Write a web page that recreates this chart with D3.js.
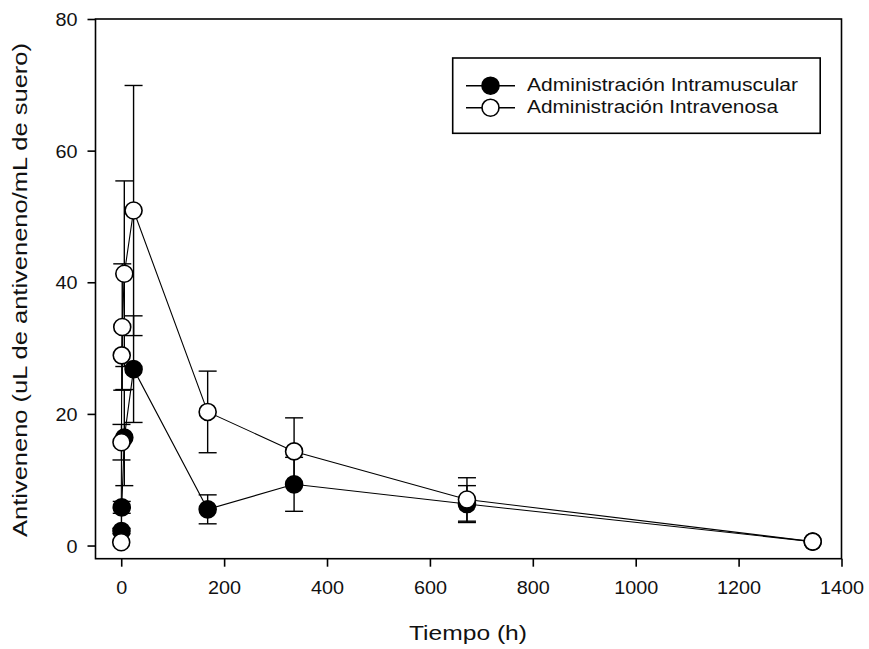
<!DOCTYPE html>
<html>
<head>
<meta charset="utf-8">
<script src="https://cdn.jsdelivr.net/npm/d3@7"></script>
<style>
  body { margin: 0; background: #fff; }
  svg { display: block; font-family: "Liberation Sans", Arial, sans-serif; }
</style>
</head>
<body>
<div id="graf"></div>
<script>
// datos: tiempo (h), media y desviacion de cada serie
const imTime = [0.5, 1, 6, 24, 168, 336, 672, 1344]
const imMean = [2.2, 5.8, 16.4, 26.8, 5.5, 9.3, 6.3, 0.6]
const imSd   = [0.4, 0.9, 7.3, 8.1, 2.2, 4.1, 2.8, 0]

const ivTime = [0, 0.5, 1, 2, 6, 24, 168, 336, 672, 1344]
const ivMean = [0.5, 15.7, 28.9, 33.2, 41.3, 50.9, 20.3, 14.3, 7.0, 0.6]
const ivSd   = [0, 2.7, 0, 9.6, 14.1, 19.0, 6.2, 5.1, 3.3, 0]

const xTicks = [0, 200, 400, 600, 800, 1000, 1200, 1400]
const yTicks = [0, 20, 40, 60, 80]

const seriesNames = ["Administración Intramuscular", "Administración Intravenosa"]

const anchoTotal = 869
const altoTotal = 649
const margins = { top: 19, right: 27.5, bottom: 90.3, left: 95.5 }
const ancho = anchoTotal - margins.left - margins.right
const alto = altoTotal - margins.top - margins.bottom

const svg = d3.select("#graf")
  .append("svg")
  .attr("width", anchoTotal)
  .attr("height", altoTotal)

const g = svg.append("g")
  .attr("transform", `translate(${margins.left}, ${margins.top})`)

// Escaladores
const x = d3.scaleLinear().domain([-50, 1400]).range([0, ancho])
const y = d3.scaleLinear().domain([-2, 80]).range([alto, 0])

// Ejes
const xAxis = d3.axisBottom(x).tickValues(xTicks).tickFormat(d3.format("d"))
  .tickSize(8).tickPadding(14).tickSizeOuter(0)
const yAxis = d3.axisLeft(y).tickValues(yTicks).tickFormat(d3.format("d"))
  .tickSize(8).tickPadding(10).tickSizeOuter(0)

const xg = g.append("g").attr("transform", `translate(0, ${alto})`).call(xAxis)
const yg = g.append("g").call(yAxis)
;[xg, yg].forEach(a => {
  a.select(".domain").remove()
  a.selectAll(".tick line").attr("stroke", "#000").attr("stroke-width", 1.6)
  a.selectAll(".tick text").attr("fill", "#111").style("font-size", "18.5px")
    .each(function () {
      // texto algo mas ancho, como en el original
      const w = this.getComputedTextLength()
      d3.select(this).attr("textLength", w * 1.07).attr("lengthAdjust", "spacingAndGlyphs")
    })
})
yg.selectAll(".tick text").attr("dy", "0.36em")

// marco
g.append("rect")
  .attr("width", ancho).attr("height", alto)
  .attr("fill", "none").attr("stroke", "#000").attr("stroke-width", 1.6)

const series = [
  { t: imTime, m: imMean, s: imSd, fill: "#000" },
  { t: ivTime, m: ivMean, s: ivSd, fill: "#fff" }
]

const line = d3.line().x(d => x(d.t)).y(d => y(d.m))

series.forEach(ser => {
  const data = ser.t.map((t, i) => ({ t: t, m: ser.m[i], s: ser.s[i] }))
  const sg = g.append("g")

  sg.append("path")
    .datum(data)
    .attr("d", line)
    .attr("fill", "none").attr("stroke", "#000").attr("stroke-width", 1.1)

  // barras de error
  const eb = sg.selectAll(".eb").data(data.filter(d => d.s > 0)).enter().append("g")
  eb.append("line")
    .attr("x1", d => x(d.t)).attr("x2", d => x(d.t))
    .attr("y1", d => y(d.m + d.s)).attr("y2", d => y(d.m - d.s))
  eb.append("line")
    .attr("x1", d => x(d.t) - 9).attr("x2", d => x(d.t) + 9)
    .attr("y1", d => y(d.m + d.s)).attr("y2", d => y(d.m + d.s))
  eb.append("line")
    .attr("x1", d => x(d.t) - 9).attr("x2", d => x(d.t) + 9)
    .attr("y1", d => y(d.m - d.s)).attr("y2", d => y(d.m - d.s))
  eb.selectAll("line").attr("stroke", "#000").attr("stroke-width", 1.4)

  sg.selectAll("circle").data(data).enter().append("circle")
    .attr("cx", d => x(d.t)).attr("cy", d => y(d.m))
    .attr("r", 8.5)
    .attr("fill", ser.fill).attr("stroke", "#000").attr("stroke-width", 1.6)
})

// Leyenda
const leg = svg.append("g")
leg.append("rect")
  .attr("x", 452.7).attr("y", 58).attr("width", 367.5).attr("height", 75.3)
  .attr("fill", "#fff").attr("stroke", "#000").attr("stroke-width", 1.6)

const legLen = [271, 251]
series.forEach((ser, i) => {
  const cy = 85.7 + i * 22
  leg.append("line")
    .attr("x1", 466).attr("x2", 515).attr("y1", cy).attr("y2", cy)
    .attr("stroke", "#000").attr("stroke-width", 1.4)
  leg.append("circle")
    .attr("cx", 490.5).attr("cy", cy).attr("r", 8.5)
    .attr("fill", ser.fill).attr("stroke", "#000").attr("stroke-width", 1.6)
  leg.append("text")
    .attr("x", 527).attr("y", cy + 5.5)
    .attr("fill", "#111")
    .style("font-size", "17.5px")
    .attr("textLength", legLen[i]).attr("lengthAdjust", "spacingAndGlyphs")
    .text(seriesNames[i])
})

// Títulos
svg.append("text")
  .attr("x", 468).attr("y", 640)
  .attr("text-anchor", "middle")
  .attr("fill", "#111")
  .style("font-size", "20px")
  .attr("textLength", 118).attr("lengthAdjust", "spacingAndGlyphs")
  .text("Tiempo (h)")

svg.append("text")
  .attr("transform", "translate(27, 290) rotate(-90)")
  .attr("text-anchor", "middle")
  .attr("fill", "#111")
  .style("font-size", "20px")
  .attr("textLength", 494).attr("lengthAdjust", "spacingAndGlyphs")
  .text("Antiveneno (uL de antiveneno/mL de suero)")
</script>
</body>
</html>
